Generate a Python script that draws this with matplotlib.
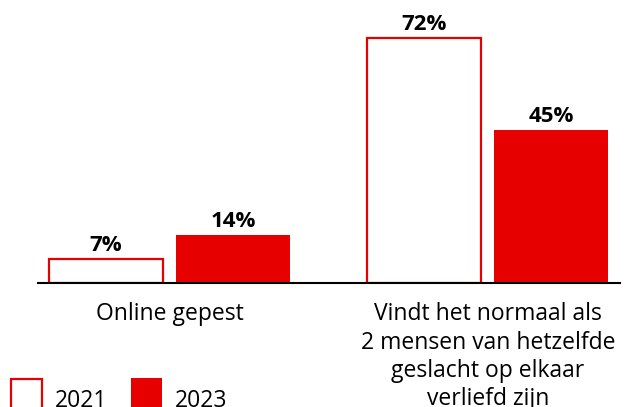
import matplotlib
matplotlib.use("Agg")
import matplotlib.pyplot as plt
from matplotlib.patches import Rectangle
import numpy as np

plt.rcParams['font.family'] = ['Open Sans', 'DejaVu Sans']

categories = ["Online gepest",
              "Vindt het normaal als\n2 mensen van hetzelfde\ngeslacht op elkaar\nverliefd zijn"]
years = ["2021", "2023"]
values_2021 = [7, 72]
values_2023 = [14, 45]

RED = "#E60000"
W, H = 633, 407

fig = plt.figure(figsize=(W / 100, H / 100), dpi=100)
ax = fig.add_axes([0, 124 / H, 1, 283 / H])

x = np.arange(len(categories))
bw = 0.358
off = 0.2
b1 = ax.bar(x - off, values_2021, bw, facecolor="white", edgecolor=RED, linewidth=1.6)
b2 = ax.bar(x + off, values_2023, bw, color=RED)

for bars, vals in [(b1, values_2021), (b2, values_2023)]:
    for r, v in zip(bars, vals):
        ax.annotate(f"{v}%", (r.get_x() + r.get_width() / 2, v), xytext=(0, 2.5),
                    textcoords="offset points", ha="center", va="bottom",
                    fontsize=16, fontweight="bold")

x0 = -169.75 / 318
ax.set_xlim(x0, x0 + W / 318)
ax.set_ylim(0, 283 / 3.4)
ax.set_xticks(x)
ax.set_xticklabels(categories, fontsize=16.5)
for t in ax.get_xticklabels():
    t.set_linespacing(1.24)
ax.tick_params(axis="x", length=0, pad=14)
ax.set_yticks([])
for s in ["top", "left", "right"]:
    ax.spines[s].set_visible(False)
ax.spines["bottom"].set_linewidth(1.5)
ax.spines["bottom"].set_bounds(x0 + 38 / 318, x0 + 620 / 318)

# legend at bottom left
fig.add_artist(Rectangle((11 / W, -5 / H), 31 / W, 33 / H, transform=fig.transFigure,
                         facecolor="white", edgecolor=RED, linewidth=1.6))
fig.add_artist(Rectangle((131 / W, -5 / H), 31 / W, 34 / H, transform=fig.transFigure,
                         facecolor=RED, edgecolor="none"))
fig.text(55 / W, 0, years[0], fontsize=16.5, va="baseline")
fig.text(175 / W, 0, years[1], fontsize=16.5, va="baseline")

fig.savefig("out.png", dpi=100)
